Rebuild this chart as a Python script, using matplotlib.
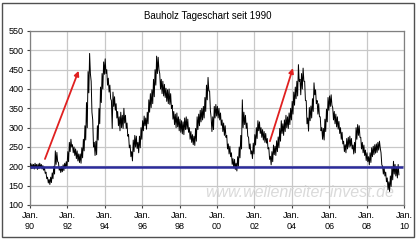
import matplotlib.pyplot as plt
import numpy as np
from matplotlib.patches import Rectangle

plt.rcParams['font.family'] = ['Liberation Sans', 'DejaVu Sans']

# monthly high / low, one row per year (1990 .. Sep 2009)
hi = [
    [207,206,205,208,205,206,208,205,202,198,185,172],
    [166,172,183,200,240,236,210,197,199,204,208,212],
    [238,262,270,256,250,245,240,232,232,248,270,305],
    [365,445,492,420,320,262,265,305,350,405,440,470],
    [478,450,428,410,370,392,380,362,342,328,340,332],
    [350,332,312,282,255,238,268,280,278,262,278,300],
    [318,330,325,340,372,388,398,425,450,485,482,440],
    [425,420,412,402,398,400,388,358,342,335,338,328],
    [322,318,315,325,328,322,300,290,282,278,298,328],
    [335,345,350,355,378,410,430,395,325,328,355,360],
    [355,350,338,320,312,305,280,258,252,235,220,218],
    [208,225,250,280,372,340,332,312,275,258,240,260],
    [282,300,318,315,300,295,290,285,272,248,226,238],
    [255,252,266,276,298,318,310,320,332,328,338,350],
    [368,392,405,420,463,425,440,454,420,370,325,352],
    [356,375,416,398,370,362,328,300,298,322,348,378],
    [382,385,352,342,335,328,316,300,288,265,256,272],
    [275,278,272,255,262,300,308,305,275,262,255,242],
    [235,225,235,248,252,256,258,262,265,235,200,196],
    [185,170,160,175,198,213,205,198,205],
]
lo = [
    [194,195,193,196,192,194,197,193,190,182,168,157],
    [153,158,168,180,205,212,190,184,186,189,195,198],
    [212,238,250,235,228,220,214,210,208,222,240,268],
    [300,390,440,340,250,228,230,268,310,365,400,438],
    [440,410,392,375,298,355,345,325,305,292,300,298],
    [312,298,278,248,225,214,238,250,246,235,248,270],
    [292,305,296,310,340,352,362,380,410,440,450,400],
    [388,382,378,368,362,360,350,322,308,300,302,292],
    [288,284,282,295,296,288,270,262,256,254,265,295],
    [305,315,320,325,342,372,395,345,290,295,325,330],
    [325,320,306,290,280,275,245,232,225,205,196,192],
    [188,200,222,245,300,308,298,278,245,232,220,232],
    [255,272,292,285,275,268,262,260,245,218,204,212],
    [230,228,238,248,265,285,280,290,300,298,308,320],
    [335,358,375,382,420,385,400,420,370,310,291,318],
    [325,342,385,362,335,328,292,270,268,290,315,345],
    [355,358,320,310,302,296,285,270,258,238,235,245],
    [250,252,245,232,235,270,280,275,245,235,228,215],
    [212,204,210,225,230,234,236,242,248,204,180,175],
    [160,140,135,148,165,180,175,170,178],
]
support = 197
arrows = [((1990.8, 219), (1992.6, 447)), ((2002.83, 265), (2004.06, 454))]
years = list(range(1990, 2011, 2))
xlabels = ['Jan.\n%02d' % (y % 100) for y in years]

t, v = [], []
for k in range(len(hi)):
    for m in range(len(hi[k])):
        t += [1990 + k + (m + 0.25) / 12, 1990 + k + (m + 0.75) / 12]
        v += [hi[k][m], lo[k][m]]

fig = plt.figure(figsize=(4.2, 2.42), dpi=100)
fig.patches.append(Rectangle((2/420, 5/242), 412/420, 234/242, transform=fig.transFigure,
                             fill=False, edgecolor='#505050', lw=1))
ax = fig.add_axes([30/420, 37/242, 374/420, 174/242])

ax.plot(t, v, color='black', lw=0.7, zorder=3)
ax.hlines(support, 1990, 2009.92, color='#2b2b9b', lw=1.8, zorder=4)
for a, b in arrows:
    ax.annotate('', xy=b, xytext=a,
                arrowprops=dict(arrowstyle='-|>', color='#e02020', lw=1.3,
                                mutation_scale=7, shrinkA=0, shrinkB=0), zorder=5)

ax.text(0.722, 0.07, 'www.wellenreiter-invest.de', transform=ax.transAxes,
        fontsize=11.5, style='italic', color='#dadada', ha='center', va='center', zorder=1)

ax.set_xlim(1990, 2010)
ax.set_ylim(100, 550)
ax.set_xticks(years)
ax.set_xticklabels(xlabels)
ax.set_yticks(range(100, 551, 50))
ax.grid(True, color='#c8c8c8', lw=0.9)
ax.set_axisbelow(True)
ax.tick_params(labelsize=6.5, length=2.5, width=0.8, color='#404040', pad=2)
for s in ax.spines.values():
    s.set_color('#808080')
    s.set_linewidth(0.9)

fig.text(208/420, 1 - 16/242, 'Bauholz Tageschart seit 1990', ha='center', va='center', fontsize=7)

fig.savefig('out.png', dpi=100)
